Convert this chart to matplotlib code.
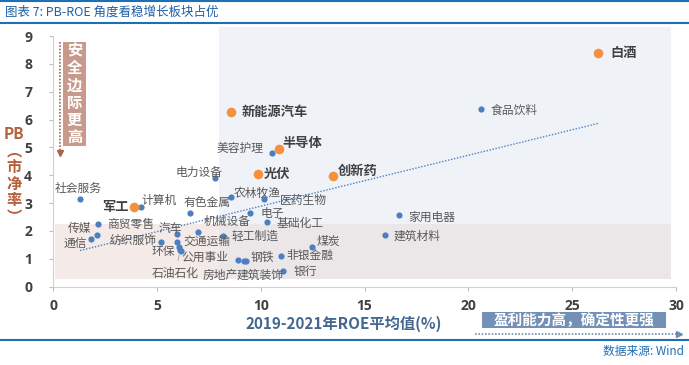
import numpy as np
import matplotlib
matplotlib.use("Agg")
import matplotlib.pyplot as plt
from matplotlib.patches import Rectangle
from matplotlib.lines import Line2D

plt.rcParams['font.family'] = ['Noto Sans CJK SC', 'DejaVu Sans']

# highlighted sub-sectors (orange)
hot_names = ["白酒", "新能源汽车", "半导体", "光伏", "创新药", "军工"]
hot_roe = [26.25, 8.55, 10.88, 9.88, 13.47, 3.90]
hot_pb = [8.38, 6.26, 4.94, 4.03, 3.97, 2.87]

# other industries (blue)
ind_names = ["食品饮料", "家用电器", "建筑材料", "美容护理", "电力设备", "社会服务",
             "计算机", "有色金属", "农林牧渔", "医药生物", "电子", "基础化工",
             "机械设备", "轻工制造", "汽车", "交通运输", "环保", "公用事业",
             "石油石化", "纺织服饰", "商贸零售", "传媒", "通信", "房地产",
             "建筑装饰", "钢铁", "非银金融", "银行", "煤炭"]
ind_roe = [20.60, 16.66, 15.98, 10.53, 7.78, 1.30,
           4.24, 6.60, 8.55, 10.17, 9.49, 10.32,
           7.00, 8.20, 5.96, 5.96, 6.08, 6.15,
           6.12, 5.20, 2.18, 2.10, 1.81, 8.92,
           9.20, 9.29, 10.96, 11.09, 12.45]
ind_pb = [6.37, 2.57, 1.86, 4.81, 3.89, 3.14,
          2.85, 2.64, 3.21, 3.14, 2.63, 2.33,
          1.97, 1.81, 1.89, 1.60, 1.44, 1.28,
          1.30, 1.62, 2.25, 1.86, 1.70, 0.96,
          0.93, 0.92, 1.12, 0.55, 1.44]

xticks = [0, 5, 10, 15, 20, 25, 30]
yticks = [0, 1, 2, 3, 4, 5, 6, 7, 8, 9]

# label placement: (dx, dy) in pixels, horizontal alignment
hot_pos = {
    "白酒": (12, 0, "left"), "新能源汽车": (11, 0, "left"), "半导体": (3, 6, "left"),
    "光伏": (6, 1, "left"), "创新药": (5, 5, "left"), "军工": (-5, 0, "right"),
}
ind_pos = {
    "食品饮料": (10, -1, "left"), "家用电器": (9, -2, "left"), "建筑材料": (9, -1, "left"),
    "美容护理": (-8, 4, "right"), "电力设备": (-16, 6, "center"), "社会服务": (-2, 11, "center"),
    "计算机": (0, 7, "left"), "有色金属": (17, 11, "center"), "农林牧渔": (3, 4, "left"),
    "医药生物": (16, -1, "left"), "电子": (10, 0, "left"), "基础化工": (9, -2, "left"),
    "机械设备": (5, 10, "left"), "轻工制造": (8, 0, "left"), "汽车": (-6, 6, "center"),
    "交通运输": (7, 0, "left"), "环保": (-4, -5, "right"), "公用事业": (1, -6, "left"),
    "石油石化": (-5, -23, "center"), "纺织服饰": (-4, 0, "right"), "商贸零售": (9, 0, "left"),
    "传媒": (-5, 6, "right"), "通信": (-4, -5, "right"), "房地产": (0, -15, "right"),
    "建筑装饰": (-7, -14, "left"), "钢铁": (5, 4, "left"), "非银金融": (6, 0, "left"),
    "银行": (10, 0, "left"), "煤炭": (5, 5, "left"),
}

W, H = 689, 365
fig = plt.figure(figsize=(W / 100, H / 100), dpi=100)
ax = fig.add_axes([53 / W, 1 - 286.7 / H, 623 / W, 250.7 / H])
ax.set_xlim(0, 30)
ax.set_ylim(0, 9)

# background zones
ax.add_patch(Rectangle((8.0, 2.25), 21.75, 7.07, facecolor='#eff3f8', edgecolor='none',
                       zorder=0, clip_on=False))
ax.add_patch(Rectangle((0.1, 0.28), 7.9, 1.97, facecolor='#f4eae7', edgecolor='none', zorder=0))
ax.add_patch(Rectangle((8.0, 0.28), 21.75, 1.97, facecolor='#ebe7e9', edgecolor='none', zorder=0))

# trend line over all points
all_x = np.array(ind_roe + hot_roe)
all_y = np.array(ind_pb + hot_pb)
k, b = np.polyfit(all_x, all_y, 1)
tx = np.array([all_x.min(), all_x.max()])
ax.plot(tx, k * tx + b, color='#4a7fc1', lw=1.0, ls=(0, (1, 1.2)), zorder=2)

ax.scatter(ind_roe, ind_pb, s=20, color='#4a7fc1', zorder=3, linewidths=0)
ax.scatter(hot_roe, hot_pb, s=48, color='#f5913c', zorder=4, linewidths=0)

for name, x, y in zip(ind_names, ind_roe, ind_pb):
    dx, dy, ha = ind_pos[name]
    ax.annotate(name, (x, y), xytext=(dx, dy), textcoords='offset pixels',
                ha=ha, va='center', fontsize=8.5, color='#595959', zorder=5)
for name, x, y in zip(hot_names, hot_roe, hot_pb):
    dx, dy, ha = hot_pos[name]
    ax.annotate(name, (x, y), xytext=(dx, dy), textcoords='offset pixels',
                ha=ha, va='center', fontsize=9.5, fontweight='bold', color='#404040', zorder=5)

# short leader for 石油石化
ax.annotate("", (6.12, 1.30), xytext=(-2, -10), textcoords='offset pixels',
            arrowprops=dict(arrowstyle='-', color='#a6a6a6', lw=0.6, shrinkA=0, shrinkB=3))

ax.set_xticks(xticks)
ax.set_yticks(yticks)
for s in ['top', 'right']:
    ax.spines[s].set_visible(False)
for s in ['left', 'bottom']:
    ax.spines[s].set_color('#d0d0d0')
ax.tick_params(axis='x', length=3, pad=6, color='#bfbfbf', labelcolor='#404040')
ax.tick_params(axis='y', length=3, pad=12, color='#bfbfbf', labelcolor='#404040')
for lbl in ax.get_xticklabels() + ax.get_yticklabels():
    lbl.set_fontweight('bold')
    lbl.set_fontsize(10)
    lbl.set_family(['Open Sans', 'DejaVu Sans'])

# axis titles
fig.text(343.5 / W, 1 - 324 / H, "2019-2021年ROE平均值(%)", ha='center', va='center',
         fontsize=11, fontweight='bold', color='#44678f')
fig.text(14 / W, 1 - 175.5 / H, "PB\n︵\n市\n净\n率\n︶", ha='center', va='center',
         fontsize=11, fontweight='bold', color='#b5603c', linespacing=1.05)

# vertical hint: safer margin
fig.add_artist(Rectangle((63 / W, 1 - 146 / H), 23 / W, 104 / H, transform=fig.transFigure,
                         facecolor='#c79a8b', edgecolor='none'))
fig.text(74.5 / W, 1 - 94 / H, "安\n全\n边\n际\n更\n高", ha='center', va='center',
         fontsize=11, fontweight='bold', color='white', linespacing=1.1)
fig.add_artist(Line2D([60 / W, 60 / W], [1 - 42 / H, 1 - 150 / H], transform=fig.transFigure,
                      color='#a8654a', lw=1.2, ls=(0, (1, 1))))
fig.add_artist(Line2D([60 / W], [1 - 153 / H], transform=fig.transFigure, marker='v',
                      color='#a8654a', markersize=5, lw=0))

# horizontal hint: higher profitability
fig.add_artist(Rectangle((482 / W, 1 - 328 / H), 184 / W, 16 / H, transform=fig.transFigure,
                         facecolor='#7391b6', edgecolor='none'))
fig.text(574 / W, 1 - 320 / H, "盈利能力高，确定性更强", ha='center', va='center',
         fontsize=10.5, fontweight='bold', color='white')
fig.add_artist(Line2D([475 / W, 676 / W], [1 - 334 / H, 1 - 334 / H], transform=fig.transFigure,
                      color='#6f8db3', lw=1.2, ls=(0, (1, 1))))
fig.add_artist(Line2D([679 / W], [1 - 334 / H], transform=fig.transFigure, marker='>',
                      color='#6f8db3', markersize=5, lw=0))

# frame lines, title, source
for yy, lw in [(1, 1.5), (22.7, 1.5), (340, 1.5)]:
    fig.add_artist(Line2D([0, 1], [1 - yy / H, 1 - yy / H], transform=fig.transFigure,
                          color='#1f6fb5', lw=lw))
fig.text(5 / W, 1 - 12 / H, "图表 7: PB-ROE 角度看稳增长板块占优", ha='left', va='center',
         fontsize=9, color='#1f5fa8')
fig.text(684 / W, 1 - 351 / H, "数据来源: Wind", ha='right', va='center',
         fontsize=8.5, color='#1f6fb5')

fig.savefig("out.png", dpi=100)
